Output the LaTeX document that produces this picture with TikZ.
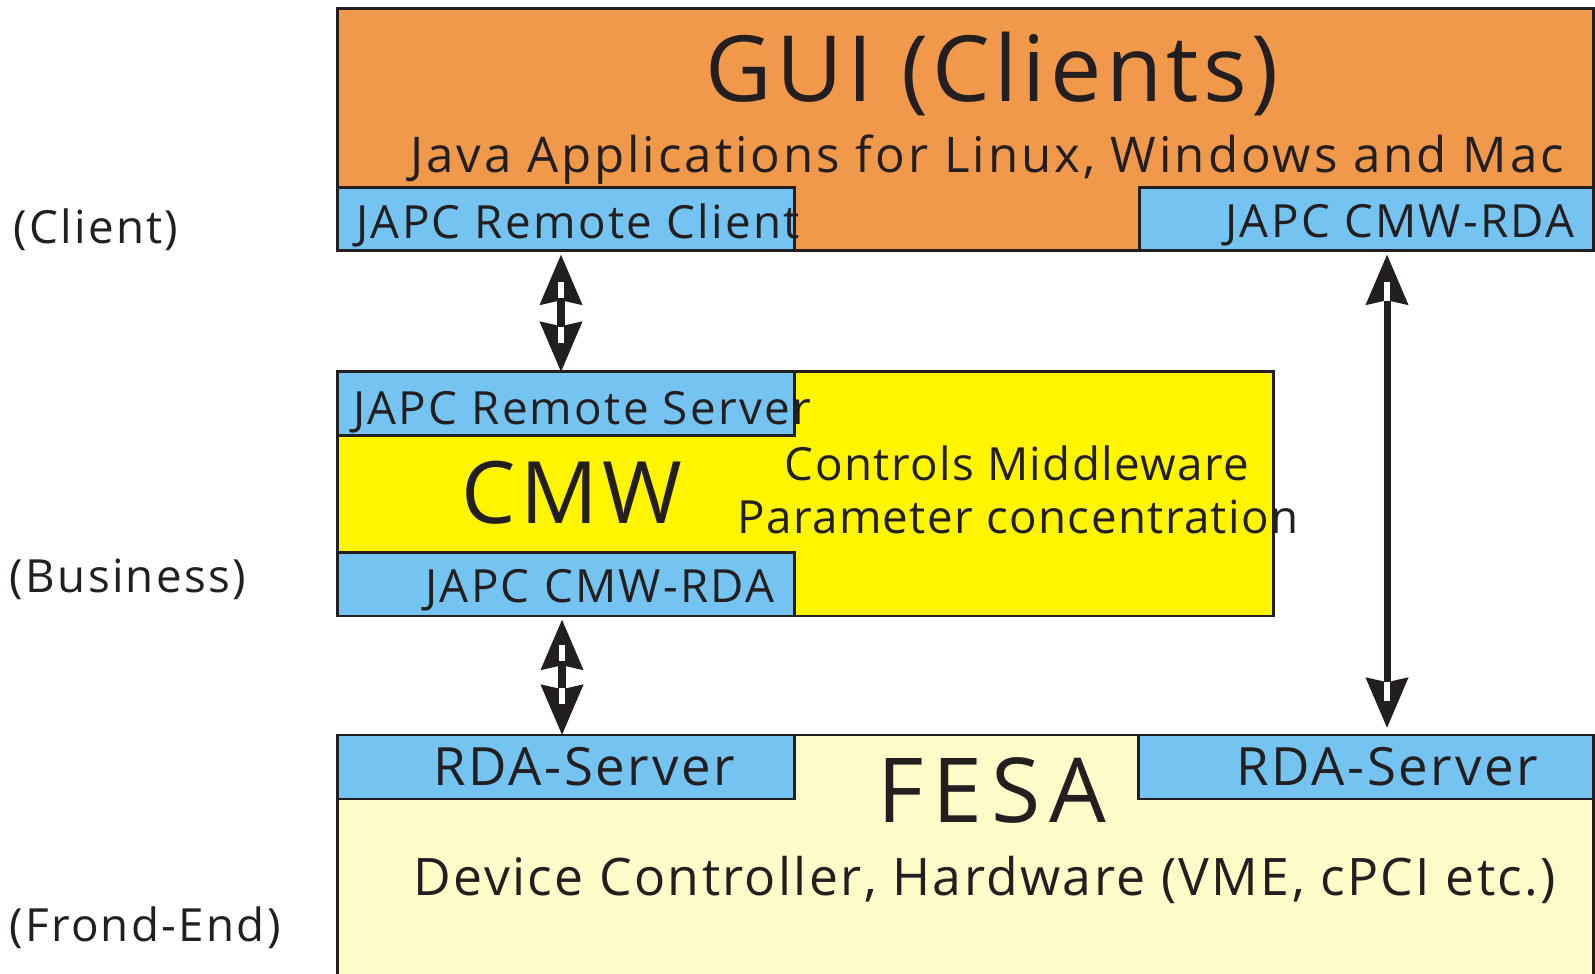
\documentclass[tikz,border=0pt]{standalone}
\usepackage{fontspec}
\setmainfont{Open Sans}[LetterSpace=5]
\usetikzlibrary{arrows.meta}
\definecolor{guiorange}{HTML}{F0994A}
\definecolor{japcblue}{HTML}{75C3F0}
\definecolor{cmwyellow}{HTML}{FFF500}
\definecolor{fesapale}{HTML}{FFFBC8}
\definecolor{ink}{HTML}{231F20}
\tikzset{
  layer/.style={draw=ink, line width=0.85pt, line join=miter},
  txt/.style={inner sep=0pt, anchor=base, text=ink},
  small/.style={txt, font=\fontsize{13pt}{13pt}\selectfont},
  note/.style={txt, font=\fontsize{13pt}{13pt}\selectfont\addfontfeatures{LetterSpace=3}},
  big/.style={txt, font=\fontsize{25pt}{25pt}\selectfont},
  link/.style={draw=ink, line width=2pt,
    {Stealth[length=14.2pt, width=11.8pt, inset=1.2pt]}-{Stealth[length=14.2pt, width=11.8pt, inset=1.2pt]}},
  notch/.style={draw=white, line width=1.6pt}
}
\begin{document}
\begin{tikzpicture}[x=0.01cm, y=-0.01cm]
\useasboundingbox (0,0) rectangle (1595,974);

% client tier
\fill[guiorange] (337,9) rectangle (1593,251);
\draw[layer] (337,251) -- (337,9) -- (1593,9) -- (1593,251) -- cycle;
\node[small, font=\fontsize{14pt}{14pt}\selectfont\addfontfeatures{LetterSpace=6}] (javatxt) at (987,173) {Java Applications for Linux, Windows and Mac};
\node[big, font=\fontsize{26pt}{26pt}\selectfont] (guitxt) at (992,102) {GUI (Clients)};
\fill[japcblue] (337,188) rectangle (794,251);
\node[small] (rctxt) at (578,239) {JAPC Remote Client};
\draw[layer] (337,188) rectangle (794,251);
\fill[japcblue] (1139,188) rectangle (1593,251);
\node[small] (crtxt) at (1400,238) {JAPC CMW-RDA};
\draw[layer] (1139,188) rectangle (1593,251);
\coordinate (rc) at (565,251);
\coordinate (cr) at (1387,251);

% business tier
\fill[cmwyellow] (337,372) rectangle (1273,616);
\draw[layer] (337,372) rectangle (1273,616);
\node[big, font=\fontsize{24.5pt}{24.5pt}\selectfont] (cmwtxt) at (572,524) {CMW};
\node[note] (cm1) at (1017,481) {Controls Middleware};
\node[note] (cm2) at (1018,534) {Parameter concentration};
\fill[japcblue] (337,372) rectangle (794,436);
\node[small] (rstxt) at (582,425) {JAPC Remote Server};
\draw[layer] (337,372) rectangle (794,436);
\fill[japcblue] (337,553) rectangle (794,616);
\node[small] (cmtxt) at (600,603) {JAPC CMW-RDA};
\draw[layer] (337,553) rectangle (794,616);
\coordinate (rs) at (561,372);
\coordinate (cb) at (562,616);

% front-end tier
\fill[fesapale] (337,735) rectangle (1593,990);
\draw[layer] (337,990) -- (337,735) -- (1593,735) -- (1593,990);
\node[big, font=\fontsize{25.5pt}{25.5pt}\selectfont\addfontfeatures{LetterSpace=10}] (fesatxt) at (992,822) {FESA};
\node[small, font=\fontsize{14.7pt}{14.7pt}\selectfont\addfontfeatures{LetterSpace=4.5}] (devtxt) at (985,895) {Device Controller, Hardware (VME, cPCI etc.)};
\fill[japcblue] (337,735) rectangle (794,799);
\node[small, font=\fontsize{15pt}{15pt}\selectfont] (rda1) at (584,786) {RDA-Server};
\draw[layer] (337,735) rectangle (794,799);
\fill[japcblue] (1138,735) rectangle (1593,799);
\node[small, font=\fontsize{15pt}{15pt}\selectfont] (rda2) at (1387,786) {RDA-Server};
\draw[layer] (1138,735) rectangle (1593,799);
\coordinate (f1) at (562,735);
\coordinate (f2) at (1387,735);

% tier labels
\node[small] (lclient) at (96,244) {(Client)};
\node[small] (lbusiness) at (128,593) {(Business)};
\node[small] (lfrontend) at (145,941) {(Frond-End)};

% links between the tiers
\draw[link] ([yshift=-1pt]rc -| rs) -- (rs);
\draw[link] ([yshift=-1pt]cb) -- (cb |- f1);
\draw[link] ([yshift=-1pt]cr) -- ([yshift=2pt]f2);
% light slots in the arrow heads
\draw[notch] (561,282) -- (561,298);
\draw[notch] (561,327) -- (561,343);
\draw[notch] (562,645) -- (562,661);
\draw[notch] (562,688) -- (562,704);
\draw[notch] (1387,282) -- (1387,301);
\draw[notch] (1387,682) -- (1387,701);
\end{tikzpicture}
\end{document}
